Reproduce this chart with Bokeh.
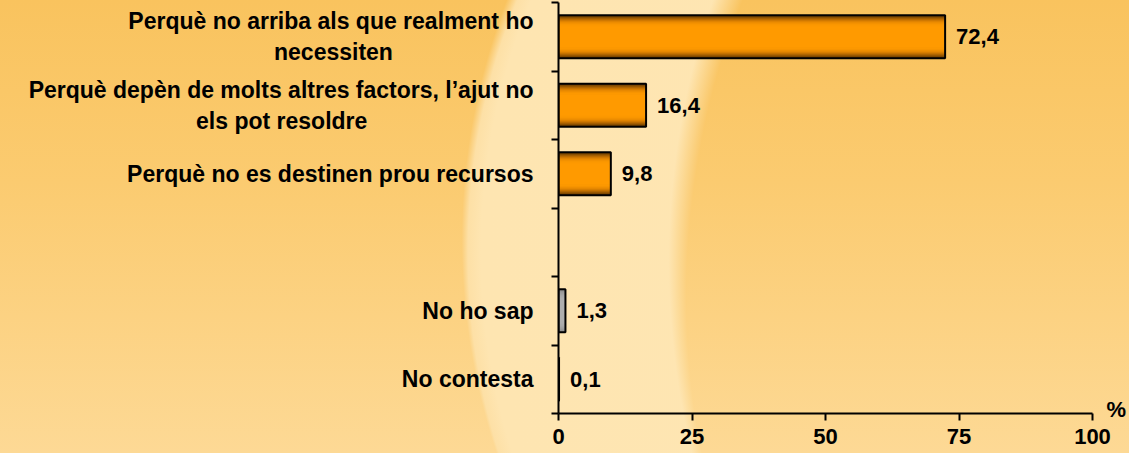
import numpy as np
from bokeh.plotting import figure
from bokeh.models import Range1d, FixedTicker, LinearAxis, ColumnDataSource
from bokeh.embed import file_html
from bokeh.resources import INLINE
from bokeh.core.properties import value

# ---------------- data ----------------
categories = [
    "Perquè no arriba als que realment ho\nnecessiten",
    "Perquè depèn de molts altres factors, l’ajut no\nels pot resoldre",
    "Perquè no es destinen prou recursos",
    "",
    "No ho sap",
    "No contesta",
]
values = [72.4, 16.4, 9.8, None, 1.3, 0.1]
groups = ["motiu", "motiu", "motiu", "", "nsnc", "nsnc"]
x_ticks = [0, 25, 50, 75, 100]
unit_label = "%"

# ---------------- layout ----------------
W, H = 1129, 453
L, R, T, B = 558, 35, 2, 40
N = len(categories)
FONT = "Liberation Sans"
LABEL_PX = 23

# approximate advance widths (em) of the bold sans face, used only to centre wrapped lines
_CW = {" ": .278, "\u00a0": .278, ",": .278, "’": .278, "'": .238, "i": .278, "j": .278, "l": .278,
       "t": .333, "f": .333, "r": .389, "m": .889, "P": .667, "N": .722}
_WIDE = set("bdghnopqu")


def text_width(s):
    return sum(_CW.get(ch, .611 if ch in _WIDE else .556) for ch in s)


def centred(label):
    """Pad shorter lines (right side) so wrapped lines look centred under right alignment."""
    lines = label.split("\n")
    if len(lines) == 1:
        return label
    wmax = max(text_width(l) for l in lines)
    out = []
    for l in lines:
        n = int(round((wmax - text_width(l)) / 2 / .278))
        out.append(l + "\u00a0" * n)
    return "\n".join(out)


p = figure(width=W, height=H, output_backend="svg", toolbar_location=None,
           x_range=Range1d(0, 100), y_range=Range1d(0, N),
           min_border_left=L, min_border_right=R, min_border_top=T, min_border_bottom=B)
p.background_fill_color = None
p.border_fill_color = None
p.outline_line_color = None
p.grid.visible = False

# background (orange slide with a light crescent), drawn with CSS behind the transparent canvas
p.styles = {
    "background-image": (
        "linear-gradient(to bottom, #F9C35E 0%, #FBCB70 40%, #FDD995 100%), "
        "radial-gradient(circle at 1136px 252px, #FEE6B4 0px, #FEE5B1 655px, #FDE0A6 668px, "
        "#F9C35E 678px, #000 679px), "
        "radial-gradient(circle at 1468px 262px, #000 0px, #000 770px, #F9C35E 771px, #FEE6B4 800px)"
    ),
    "background-blend-mode": "lighten, darken, normal",
}

# ---------------- bars ----------------
rows = [i for i, v in enumerate(values) if v is not None]
ypos = [N - i - 0.5 for i in rows]
vals = [values[i] for i in rows]
grp = [groups[i] for i in rows]
labels = [("%.1f" % v).replace(".", ",") for v in vals]

orange_layers = ["#643900", "#7A4600", "#925400", "#AA6200", "#C06F00", "#D47B00",
                 "#E48600", "#EF8E00", "#F79400", "#FC9800", "#FF9A00"]
grey_layers = ["#8A8A8A", "#909090", "#969696", "#9C9C9C", "#A1A1A1", "#A5A5A5",
               "#A8A8A8", "#AAAAAA", "#ACACAC", "#ADADAD", "#AEAEAE"]
heights = [0.63, 0.60, 0.57, 0.54, 0.51, 0.48, 0.45, 0.42, 0.39, 0.36, 0.30]

src = ColumnDataSource(dict(y=ypos, v=vals, label=labels))
for k, h in enumerate(heights):
    src.data["c%d" % k] = [orange_layers[k] if g == "motiu" else grey_layers[k] for g in grp]
    p.hbar(y="y", right="v", left=0, height=h, source=src, fill_color="c%d" % k, line_color=None)
p.hbar(y="y", right="v", left=0, height=heights[0], source=src, fill_color=None,
       line_color="black", line_width=2)

p.text(x="v", y="y", text="label", source=src, x_offset=11, text_baseline="middle",
       text_align="left", text_font=value(FONT), text_font_style="bold",
       text_font_size="22px", text_color="black")

# ---------------- axes ----------------
centers = [N - i - 0.5 for i in range(N) if categories[i]]
p.yaxis.ticker = FixedTicker(ticks=centers, minor_ticks=list(range(N + 1)))
p.yaxis.major_label_overrides = {N - i - 0.5: centred(categories[i]) for i in range(N) if categories[i]}
p.yaxis.major_tick_out = 0
p.yaxis.major_tick_in = 0
p.yaxis.minor_tick_out = 7
p.yaxis.minor_tick_in = 0
p.yaxis.minor_tick_line_width = 2
p.yaxis.minor_tick_line_color = "black"
p.yaxis.major_label_standoff = 18
p.yaxis.major_label_text_font = FONT
p.yaxis.major_label_text_font_style = "bold"
p.yaxis.major_label_text_font_size = "%dpx" % LABEL_PX
p.yaxis.major_label_text_color = "black"
p.yaxis.axis_line_width = 2
p.yaxis.axis_line_color = "black"

p.xaxis.ticker = FixedTicker(ticks=x_ticks, minor_ticks=[])
p.xaxis.major_tick_out = 7
p.xaxis.major_tick_in = 0
p.xaxis.major_tick_line_width = 2
p.xaxis.major_tick_line_color = "black"
p.xaxis.axis_line_width = 2
p.xaxis.axis_line_color = "black"
p.xaxis.major_label_standoff = 8
p.xaxis.major_label_text_font = FONT
p.xaxis.major_label_text_font_style = "bold"
p.xaxis.major_label_text_font_size = "22px"
p.xaxis.major_label_text_color = "black"

# unit "%" at the end of the value axis
unit_axis = LinearAxis(ticker=FixedTicker(ticks=[0.06], minor_ticks=[]),
                       major_label_overrides={0.06: unit_label},
                       axis_line_color=None, major_tick_line_color=None,
                       major_tick_out=0, major_tick_in=0,
                       major_label_standoff=14, major_label_text_font=FONT,
                       major_label_text_font_style="bold", major_label_text_font_size="22px",
                       major_label_text_color="black")
p.add_layout(unit_axis, "right")

open("out.html", "w").write(file_html(p, INLINE))
